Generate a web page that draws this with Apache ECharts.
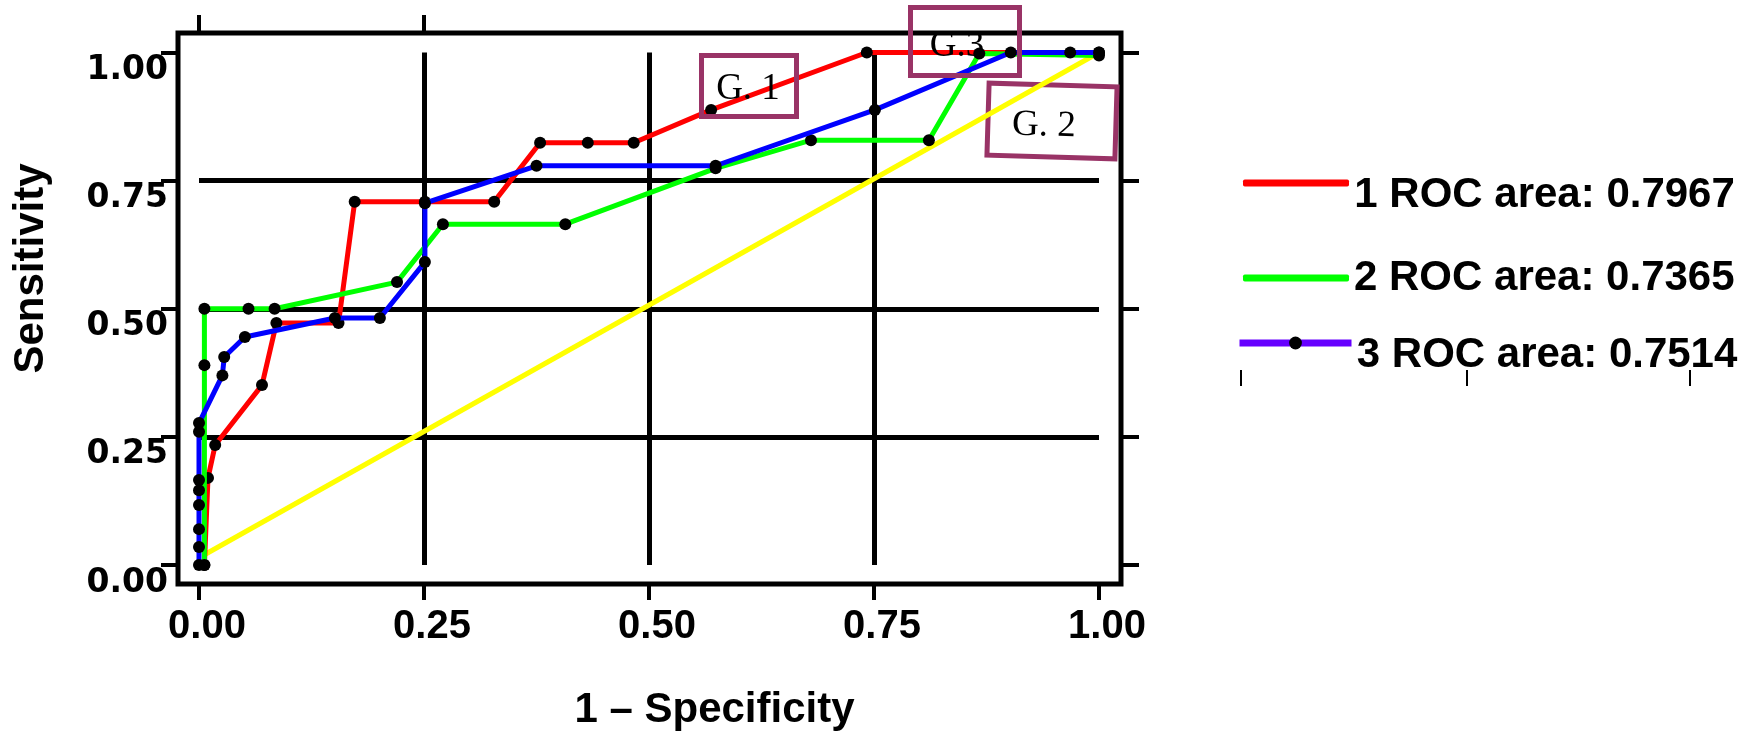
<!DOCTYPE html>
<html>
<head>
<meta charset="utf-8">
<script src="https://cdn.jsdelivr.net/npm/echarts@6/dist/echarts.min.js"></script>
<style>
html,body{margin:0;padding:0;background:#fff;}
#chart{width:1755px;height:732px;}
</style>
</head>
<body>
<div id="chart"></div>
<script>
// ---- data ----
const tickValues = [0, 0.25, 0.5, 0.75, 1];
const topTickValues = [0, 0.25];
const seriesNames = ['1 ROC area: 0.7967', '2 ROC area: 0.7365', '3 ROC area: 0.7514'];
const roc1 = [[0.006,0],[0.01,0.17],[0.018,0.234],[0.07,0.351],[0.086,0.472],[0.155,0.472],[0.173,0.709],[0.251,0.709],[0.328,0.709],[0.379,0.824],[0.432,0.824],[0.483,0.824],[0.569,0.888],[0.742,1],[1,1]];
const roc2 = [[0.006,0],[0.006,0.39],[0.006,0.5],[0.055,0.5],[0.084,0.5],[0.22,0.552],[0.271,0.665],[0.407,0.665],[0.574,0.774],[0.68,0.829],[0.811,0.829],[0.867,0.998],[1,0.994]];
const roc3 = [[0,0],[0,0.035],[0,0.07],[0,0.117],[0,0.146],[0,0.166],[0,0.26],[0,0.277],[0.026,0.37],[0.028,0.406],[0.051,0.445],[0.151,0.482],[0.201,0.482],[0.251,0.591],[0.251,0.706],[0.375,0.779],[0.574,0.779],[0.751,0.888],[0.902,1],[0.968,1],[1,1]];
const diagonal = [[0.006,0.02],[1,1]];
const annotations = ['G. 1', 'G.3', 'G. 2'];

const chart = echarts.init(document.getElementById('chart'), null, {renderer:'canvas'});
const SANS = '"Liberation Sans", Arial, sans-serif';
const tickStyle = {color:'#000', width:4};
const gridLine = {color:'#000', width:5};
const noLine = {show: false, onZero: false};

// frame grid spans a bit beyond the [0,1] data square
const FX_MIN = -21/900, FX_MAX = 922/900;
const FY_MIN = -19/512.5, FY_MAX = 532/512.5;

function lineSeries(name, data, color, z) {
  return {
    name: name, type: 'line', data: data, xAxisIndex: 2, yAxisIndex: 2,
    symbol: 'circle', symbolSize: 12, showSymbol: true, clip: false, z: z,
    itemStyle: {color: '#000'},
    lineStyle: {color: color, width: 5},
    emphasis: {disabled: true}, animation: false
  };
}

const legendText = {fontFamily: SANS, fontWeight: 'bold', fontSize: 42, color: '#000', lineHeight: 42};
const shiftedRich = {
  s: {fontSize: 1, lineHeight: 66},
  a: {fontFamily: SANS, fontWeight: 'bold', fontSize: 42, color: '#000', lineHeight: 42, verticalAlign: 'bottom'}
};

const option = {
  backgroundColor: '#fff',
  animation: false,
  grid: [
    {left: 178, top: 33, width: 943, height: 551, show: true, borderColor: '#000', borderWidth: 5, backgroundColor: 'transparent', outerBoundsMode: 'none'},
    {left: 199, top: 52.5, width: 900, height: 512.5, outerBoundsMode: 'none'}
  ],
  xAxis: [
    {gridIndex: 0, type: 'value', min: FX_MIN, max: FX_MAX, position: 'bottom',
     axisLine: noLine,
     axisTick: {show: true, inside: false, length: 16, lineStyle: tickStyle, customValues: tickValues},
     axisLabel: {show: true, customValues: tickValues, formatter: v => v.toFixed(2),
       fontFamily: SANS, fontWeight: 'bold', fontSize: 40, color: '#000', margin: 23, padding: [0,0,0,16]},
     splitLine: {show: false},
     name: '1 – Specificity', nameLocation: 'middle', nameGap: 105, nameMoveOverlap: false,
     nameTextStyle: {fontFamily: SANS, fontWeight: 'bold', fontSize: 42, color: '#000', lineHeight: 42, padding: [0,0,0,130]}
    },
    {gridIndex: 0, type: 'value', min: FX_MIN, max: FX_MAX, position: 'top',
     axisLine: noLine,
     axisTick: {show: true, inside: false, length: 18, lineStyle: tickStyle, customValues: topTickValues},
     axisLabel: {show: false}, splitLine: {show: false}},
    {gridIndex: 1, type: 'value', min: 0, max: 1, interval: 0.25,
     axisLine: noLine, axisTick: {show: false}, axisLabel: {show: false},
     splitLine: {show: true, showMinLine: false, showMaxLine: false, lineStyle: gridLine}}
  ],
  yAxis: [
    {gridIndex: 0, type: 'value', min: FY_MIN, max: FY_MAX, position: 'left',
     axisLine: noLine,
     axisTick: {show: true, inside: false, length: 17, lineStyle: tickStyle, customValues: tickValues},
     axisLabel: {show: true, customValues: tickValues, formatter: v => v.toFixed(2),
       fontFamily: '"DejaVu Sans", sans-serif', fontWeight: 'bold', fontSize: 33, color: '#000',
       margin: 10, verticalAlign: 'top', lineHeight: 36},
     splitLine: {show: false},
     name: 'Sensitivity', nameLocation: 'middle', nameRotate: 90, nameGap: 126, nameMoveOverlap: false,
     nameTextStyle: {fontFamily: SANS, fontWeight: 'bold', fontSize: 42, color: '#000', lineHeight: 42, padding: [0,0,0,80]}
    },
    {gridIndex: 0, type: 'value', min: FY_MIN, max: FY_MAX, position: 'right',
     axisLine: noLine,
     axisTick: {show: true, inside: false, length: 18, lineStyle: tickStyle, customValues: tickValues},
     axisLabel: {show: false}, splitLine: {show: false}},
    {gridIndex: 1, type: 'value', min: 0, max: 1, interval: 0.25,
     axisLine: noLine, axisTick: {show: false}, axisLabel: {show: false},
     splitLine: {show: true, showMinLine: false, showMaxLine: false, lineStyle: gridLine}}
  ],
  legend: [
    {left: 1243, top: 150, padding: 0, selectedMode: false, itemWidth: 106, itemHeight: 7,
     data: [{name: seriesNames[0], icon: 'roundRect', itemStyle: {color: '#ff0000'}}],
     formatter: n => '{s| }{a|' + n + '}',
     textStyle: Object.assign({}, legendText, {rich: shiftedRich})},
    {left: 1243, top: 257, padding: 0, selectedMode: false, itemWidth: 106, itemHeight: 7,
     data: [{name: seriesNames[1], icon: 'roundRect', itemStyle: {color: '#00ff00'}}],
     textStyle: Object.assign({}, legendText)},
    {left: 1236, top: 310, padding: 0, selectedMode: false, itemWidth: 112, itemHeight: 16,
     data: [{name: seriesNames[2], lineStyle: {color: '#6600ff', width: 7}, itemStyle: {color: '#000'}}],
     formatter: n => '{s| }{a|' + n + '}',
     textStyle: Object.assign({}, legendText, {rich: shiftedRich})}
  ],
  series: [
    {name: 'diagonal', type: 'line', data: diagonal, xAxisIndex: 2, yAxisIndex: 2, symbol: 'none',
     lineStyle: {color: '#ffff00', width: 5}, clip: false, z: 2, emphasis: {disabled: true}, animation: false},
    lineSeries(seriesNames[0], roc1, '#ff0000', 3),
    lineSeries(seriesNames[1], roc2, '#00ff00', 4),
    lineSeries(seriesNames[2], roc3, '#0000ff', 5)
  ],
  graphic: [
    {type: 'rect', shape: {x: 701.5, y: 55.5, width: 95, height: 61}, style: {fill: 'none', stroke: '#993366', lineWidth: 5}, z: 100},
    {type: 'text', x: 748, y: 89, style: {text: annotations[0], font: '37px "Liberation Serif", serif', fill: '#000', align: 'center', verticalAlign: 'middle'}, z: 100},
    {type: 'rect', shape: {x: 910.5, y: 7.5, width: 109, height: 68}, style: {fill: 'none', stroke: '#993366', lineWidth: 5}, z: 100},
    {type: 'text', x: 957, y: 46, style: {text: annotations[1], font: '37px "Liberation Serif", serif', fill: '#000', align: 'center', verticalAlign: 'middle'}, z: 100},
    {type: 'group', x: 1052, y: 121, rotation: -0.03, z: 100, children: [
      {type: 'rect', shape: {x: -64, y: -36, width: 128, height: 72}, style: {fill: 'none', stroke: '#993366', lineWidth: 5}},
      {type: 'text', x: -8, y: 5, style: {text: annotations[2], font: '37px "Liberation Serif", serif', fill: '#000', align: 'center', verticalAlign: 'middle'}}
    ]},
    {type: 'line', shape: {x1: 1241, y1: 370, x2: 1241, y2: 386}, style: {stroke: '#000', lineWidth: 2}},
    {type: 'line', shape: {x1: 1467, y1: 370, x2: 1467, y2: 386}, style: {stroke: '#000', lineWidth: 2}},
    {type: 'line', shape: {x1: 1690, y1: 370, x2: 1690, y2: 386}, style: {stroke: '#000', lineWidth: 2}}
  ]
};
chart.setOption(option);
</script>
</body>
</html>
